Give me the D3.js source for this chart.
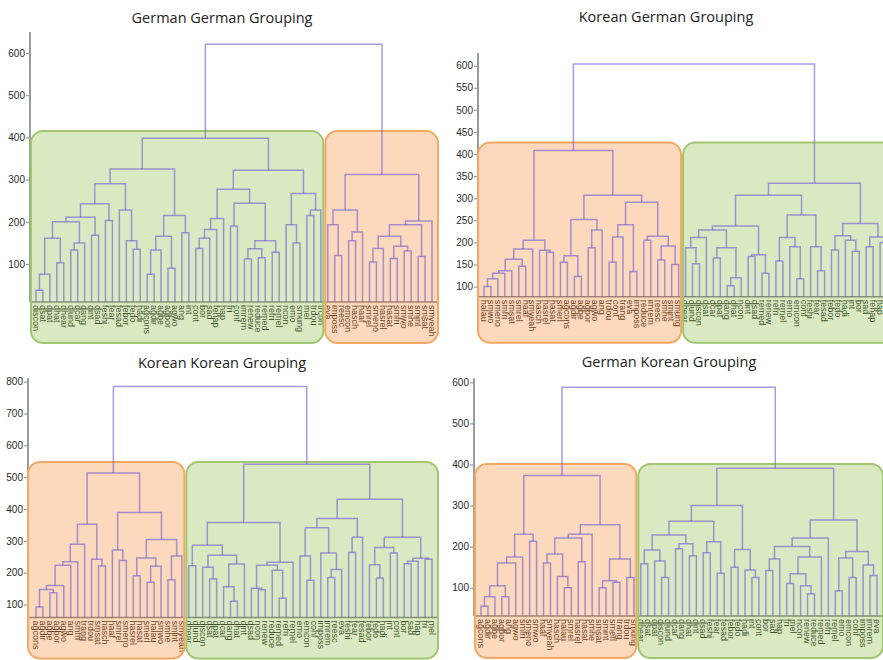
<!DOCTYPE html>
<html>
<head>
<meta charset="utf-8">
<script src="https://cdn.jsdelivr.net/npm/d3@7"></script>
<style>
  body { margin: 0; background: #fff; }
  svg { display: block; }
</style>
</head>
<body>
<svg id="chart" width="883" height="660"></svg>
<script>
// ---------------------------------------------------------------------------
// Dendrogram data. A node is [left, right, mergeHeight]; a leaf is the
// position of its label in the matching labels array (left to right).
// ---------------------------------------------------------------------------

// German German Grouping
const ggTitle = "German German Grouping";
const ggTicks = [100, 200, 300, 400, 500, 600];
const ggLabels = ["discon","dsat","dpat","dhat","dhear","dlund","dcar","dang","dint","dsad",
  "feshi","fear","fesad","febor","fedo","hadi","agcons","agdir","agbe","agbor","agwo","ang",
  "int","cont","bor","sad","fehap","hap","fri","conf","imrem","renew","reduce","remed","refri",
  "remel","ncon","emo","smung","mel","trdou","trcon",
  "eva","imposs","reesc","emcon","hasch","haaf","smrel","smeno","hasrel","hasat","smfri","smwo",
  "smhe","smint","smsat","smyeah"];
const ggGreenLeft = [
  [[[[[[[0,1,38],2,76],[3,4,103],161],[[5,6,133],7,150],200],[8,9,168],211],[10,11,203],243],[12,[13,[14,15,135],155],228],290],
  [[[[16,17,76],18,133],[19,20,90],166],[21,22,174],215],
  325];
const ggGreenRight = [
  [[[[[23,24,137],25,161],26,182],27,208],[[28,29,190],[[[30,31,112],[32,33,115],136],[34,35,128],155],244],277],
  [[36,[37,38,150],193],[[39,40,215],41,228],267],
  322];
const ggOrange = [
  [[42,[43,44,120],193],[[45,46,155],47,176],228],
  [[[[[48,49,105],50,137],[[51,52,113],[53,54,131],142],166],[55,56,118],193],57,202],
  312];
const ggTree = [[ggGreenLeft, ggGreenRight, 398], ggOrange, 621];

// Korean German Grouping
const kgTitle = "Korean German Grouping";
const kgTicks = [100, 150, 200, 250, 300, 350, 400, 450, 500, 550, 600];
const kgLabels = ["halau","smwo","smeno","smfri","smsat","smrel","haaf","smyeah","hasch","hasrel",
  "hasat","smerl","agcons","agdir","agbe","agbor","agwo","ang","trdou","cont","trang","eva",
  "imposs","reduce","imrem","reesc","smhe","smint","smung",
  "dhear","dlund","discon","dsat","dcar","dpat","dang","dhat","ncon","dint","dsad","remed","renew",
  "refri","remel","emo","emcon","conf","feshi","fear","fesad","febor","fedo","hadi","int","bor",
  "sad","fehap","hap","fri","mel","trcon"];
const kgOrange = [
  [[[[[[[0,1,100],2,118],3,130],4,136],[5,6,146],162],7,185],[8,[9,10,178],182],205],
  [[[[11,12,155],[13,14,123],170],[[15,16,188],17,228],252],
   [[[[18,19,155],20,212],[21,22,134],240],[[23,24,205],[[25,26,160],[27,28,150],192],214],291],307],
  408];
const kgGreenLeft = [
  [[[[29,[30,31,152],188],32,211],[[33,34,165],[[35,36,102],37,120],188],228],[[38,39,168],[40,41,130],172],237],
  [[[42,43,158],[44,[45,46,118],190],211],[47,[48,49,136],190],262],
  307];
const kgGreenRight = [
  [[50,51,183],[52,[53,54,180],205],215],
  [[55,56,190],[57,[58,[59,60,150],170],200],212],
  243];
const kgTree = [kgOrange, [kgGreenLeft, kgGreenRight, 334], 604];

// Korean Korean Grouping
const kkTitle = "Korean Korean Grouping";
const kkTicks = [100, 200, 300, 400, 500, 600, 700, 800];
const kkLabels = ["agcons","agdir","agbe","agbor","agwo","ang","smfri","trang","trdou","smsat",
  "hasch","haaf","smrel","smeno","hasrel","hasat","smerl","halau","smwo","smhe","smint","smyeah",
  "dhear","dlund","discon","dsat","dpat","dcar","dang","dhat","dint","dsad","ncon","renew","reduce",
  "remed","refri","remel","emo","emcon","conf","imposs","imrem","reesc","eva","feshi","fear",
  "fesad","febor","fedo","hadi","int","cont","bor","sad","hap","fri","mel"];
const kkOrange = [
  [[[[[[[0,1,92],[2,3,137],147],4,160],5,223],6,234],7,289],[8,[9,10,221],242],352],
  [[11,[12,13,238],271],[[[14,15,190],[[16,17,170],18,220],246],[[19,20,178],21,252],304],389],
  513];
const kkGreenLeft = [
  [[22,23,222],[[24,[25,26,180],217],[[27,[28,29,110],156],30,227],255],286],
  [[[31,[32,33,146],151],[34,[35,36,120],208],223],37,233],
  358];
const kkGreenRight = [
  [[[38,[39,40,176],252],[41,[[42,43,185],44,210],262],341],[[45,46,263],47,311],370],
  [[[48,[49,50,183],225],[51,52,262],279],[[[53,54,228],55,236],[56,57,242],245],311],
  431];
const kkTree = [kkOrange, [kkGreenLeft, kkGreenRight, 541], 785];

// German Korean Grouping
const gkTitle = "German Korean Grouping";
const gkTicks = [100, 200, 300, 400, 500, 600];
const gkLabels = ["agcons","agdir","agbe","agbor","ang","agwo","smfri","smeno","smwo","haaf",
  "smyeah","hasch","halau","smrel","hasrel","hasat","smhe","smsat","smint","smerl","trang","trdou",
  "smung","dhear","dsat","dpat","discon","dlund","dcar","dang","dhat","dint","dsad","feshi","fear",
  "fesad","febor","fedo","hadi","int","cont","bor","sad","hap","fri","mel","ncon","renew","reduce",
  "remed","refri","remel","emo","emcon","conf","imposs","imrem","eva"];
const gkOrange = [
  [[[[[[0,1,55],2,78],[3,4,78],105],5,160],6,175],[7,8,213],230],
  [[[[[9,10,160],[11,[12,13,100],127],182],[14,15,163],221],16,230],[[[17,18,100],[19,20,113],117],[21,22,125],170],253],
  373];
const gkGreenLeft = [
  [[[[23,24,158],[25,[26,27,125],165],192],[[28,29,195],[30,31,178],207],228],[[32,33,185],[34,35,135],212],262],
  [[36,37,150],[38,[39,40,125],143],193],
  300];
const gkGreenRight = [
  [[[[41,42,142],43,170],[[[44,45,110],[46,[47,48,85],105],134],49,175],200],50,221],
  [[[51,52,92],[53,54,125],172],[55,[56,57,130],155],188],
  265];
const gkTree = [gkOrange, [gkGreenLeft, gkGreenRight, 391], 588];

// ---------------------------------------------------------------------------
// Layout and style
// ---------------------------------------------------------------------------
const groupStyle = {
  green:  { fill: "rgb(150,196,88)", stroke: "rgb(160,198,112)" },
  orange: { fill: "rgb(246,146,72)", stroke: "rgb(244,168,100)" }
};
const LINK = "rgba(112,96,212,0.62)";

const panels = [
  { title: ggTitle, labels: ggLabels, tree: ggTree, ticks: ggTicks, groups: ["green", "orange"],
    axisX: 30, leaves: [36, 432], yDom: [100, 600], yRng: [264, 53], axisSpan: [10, 650],
    boxTop: 415, boxDrop: 41, padL: 5, titleAt: [222, 23] },
  { title: kgTitle, labels: kgLabels, tree: kgTree, ticks: kgTicks, groups: ["orange", "green"],
    axisX: 478, leaves: [484, 901], yDom: [100, 600], yRng: [286.6, 65.7], axisSpan: [77, 629],
    boxTop: 426, boxDrop: 46, padL: 6, titleAt: [666, 22] },
  { title: kkTitle, labels: kkLabels, tree: kkTree, ticks: kkTicks, groups: ["orange", "green"],
    axisX: 28, leaves: [36, 432], yDom: [100, 800], yRng: [604.5, 381.7], axisSpan: [59, 811],
    boxTop: 548, boxDrop: 41, padL: 8, titleAt: [222, 368] },
  { title: gkTitle, labels: gkLabels, tree: gkTree, ticks: gkTicks, groups: ["orange", "green"],
    axisX: 474, leaves: [481, 877], yDom: [100, 600], yRng: [587.7, 382.3], axisSpan: [31, 610],
    boxTop: 401, boxDrop: 42, padL: 6, titleAt: [669, 367] }
];

const svg = d3.select("#chart");

panels.forEach(p => {
  const g = svg.append("g");
  const y = d3.scaleLinear().domain(p.yDom).range(p.yRng);
  const x = d3.scalePoint().domain(d3.range(p.labels.length)).range(p.leaves);
  const baseY = y(p.axisSpan[0]);

  // hierarchy: leaves sit on the baseline, inner nodes at their merge height
  const root = d3.hierarchy(p.tree, d => Array.isArray(d) ? [d[0], d[1]] : null);
  root.eachAfter(n => {
    if (!n.children) { n.px = x(n.data); n.py = baseY; }
    else { n.px = (n.children[0].px + n.children[1].px) / 2; n.py = y(n.data[2]); }
  });

  // title
  g.append("text")
    .attr("x", p.titleAt[0]).attr("y", p.titleAt[1])
    .attr("text-anchor", "middle")
    .style("font-family", "'Open Sans', 'Noto Sans', sans-serif")
    .style("font-size", "14.5px")
    .style("fill", "#222")
    .text(p.title);

  // y axis
  const axis = g.append("g")
    .attr("transform", `translate(${p.axisX},0)`)
    .call(d3.axisLeft(y).tickValues(p.ticks).tickSizeOuter(0).tickSizeInner(4).tickPadding(1));
  axis.select(".domain").remove();
  axis.selectAll(".tick line").attr("stroke", "#9a9a9a").attr("stroke-width", 1.2);
  axis.selectAll(".tick text")
    .style("font-family", "'Liberation Sans', Arial, sans-serif")
    .style("font-size", "10px")
    .style("fill", "#2a2a2a");
  g.append("line")
    .attr("x1", p.axisX).attr("x2", p.axisX)
    .attr("y1", y(p.axisSpan[0])).attr("y2", y(p.axisSpan[1]))
    .attr("stroke", "#9a9a9a").attr("stroke-width", 2);

  // baseline along the leaves
  g.append("line")
    .attr("x1", p.axisX).attr("x2", p.leaves[1] + 5)
    .attr("y1", baseY).attr("y2", baseY)
    .attr("stroke", "#7a7a7a").attr("stroke-width", 1.5);

  // leaf labels, rotated
  g.append("g").selectAll("text")
    .data(root.leaves())
    .join("text")
    .attr("transform", d => `translate(${d.px},${baseY + 3}) rotate(90)`)
    .attr("dy", "0.35em")
    .style("font-family", "'Liberation Sans', Arial, sans-serif")
    .style("font-size", "9px")
    .style("fill", "#111")
    .text(d => p.labels[d.data]);

  // translucent group boxes over the two top-level clusters
  const clusters = root.children.map(c => {
    const idx = c.leaves().map(l => l.data);
    return [d3.min(idx), d3.max(idx)];
  });
  const mid = (x(clusters[0][1]) + x(clusters[1][0])) / 2;
  const boxes = [
    { x0: x(clusters[0][0]) - p.padL, x1: mid - 1, group: p.groups[0] },
    { x0: mid + 1, x1: x(clusters[1][1]) + 6, group: p.groups[1] }
  ];
  g.append("g").selectAll("rect")
    .data(boxes)
    .join("rect")
    .attr("x", d => d.x0)
    .attr("y", y(p.boxTop))
    .attr("width", d => d.x1 - d.x0)
    .attr("height", baseY + p.boxDrop - y(p.boxTop))
    .attr("rx", 12).attr("ry", 12)
    .attr("fill", d => groupStyle[d.group].fill)
    .attr("fill-opacity", 0.36)
    .attr("stroke", d => groupStyle[d.group].stroke)
    .attr("stroke-width", 2);

  // elbow links
  g.append("g").selectAll("path")
    .data(root.descendants().filter(n => n.children))
    .join("path")
    .attr("d", n => {
      const [a, b] = n.children;
      return `M${a.px},${a.py}V${n.py}H${b.px}V${b.py}`;
    })
    .attr("fill", "none")
    .attr("stroke", LINK)
    .attr("stroke-width", 1.5);
});
</script>
</body>
</html>
